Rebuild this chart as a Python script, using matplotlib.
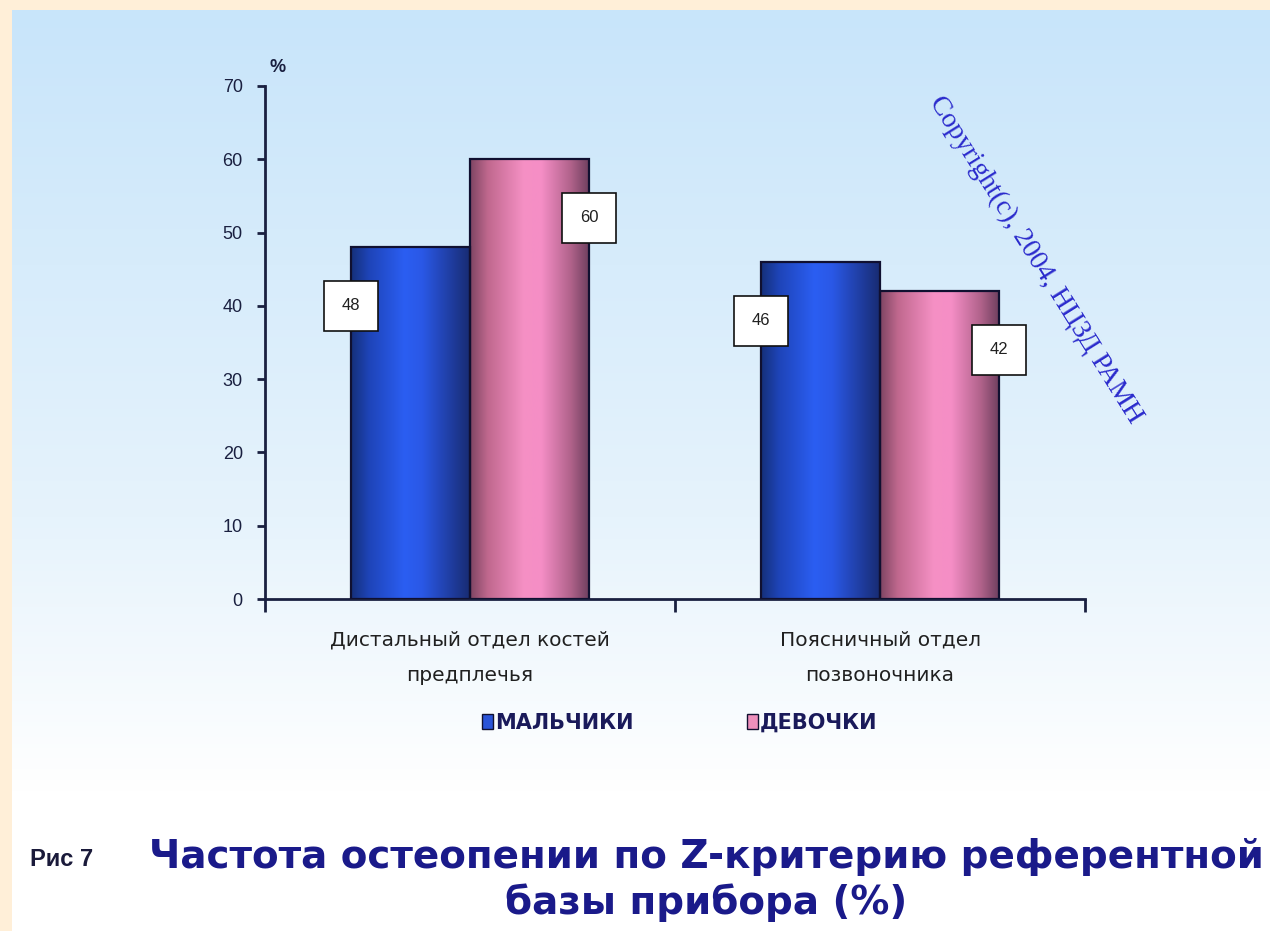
import numpy as np
import matplotlib
matplotlib.use("Agg")
import matplotlib.pyplot as plt
from matplotlib.colors import LinearSegmentedColormap
from matplotlib.patches import Patch

# ---- data ----
categories = ["Дистальный отдел костей\nпредплечья", "Поясничный отдел\nпозвоночника"]
series_names = ["МАЛЬЧИКИ", "ДЕВОЧКИ"]
boys = [48, 46]
girls = [60, 42]
y_ticks = [0, 10, 20, 30, 40, 50, 60, 70]

W, H = 1270, 931
fig = plt.figure(figsize=(W / 100, H / 100), dpi=100)
fig.patch.set_facecolor("#FFEFD8")

def fx(px):
    return px / W

def fy(py):
    return 1 - py / H

# background gradient panel
bg = fig.add_axes([fx(12), 0, 1 - fx(12), fy(10)])
bg.set_axis_off()
grad_cmap = LinearSegmentedColormap.from_list(
    "bgc", [(0, "#C8E5FA"), (0.55, "#E6F3FC"), (0.85, "#FFFFFF"), (1.0, "#FFFFFF")])
bg.imshow(np.linspace(0, 1, 256).reshape(-1, 1), aspect="auto", cmap=grad_cmap,
          extent=[0, 1, 0, 1], origin="upper")
bg.set_xlim(0, 1)
bg.set_ylim(0, 1)
bg.set_zorder(0)

ax = fig.add_axes([fx(265), fy(599), fx(1085) - fx(265), fy(86) - fy(599)])
ax.set_zorder(1)
ax.patch.set_alpha(0)

axis_col = "#1A2040"
n = len(categories)
centers = np.arange(n) + 0.5
bw = 0.29

blue_cmap = LinearSegmentedColormap.from_list(
    "bl", [(0, "#15307A"), (0.15, "#1E44B8"), (0.45, "#2B5EF2"), (0.6, "#2A58E6"), (0.85, "#1F3C9E"), (1, "#182C72")])
pink_cmap = LinearSegmentedColormap.from_list(
    "pk", [(0, "#7E4563"), (0.15, "#C0688E"), (0.45, "#F590C4"), (0.6, "#F58EC6"), (0.85, "#B0628A"), (1, "#704060")])

def grad_bars(xs, vals, cmap):
    bars = ax.bar(xs, vals, width=bw, facecolor="none", edgecolor="#101030", linewidth=1.6, zorder=3)
    g = np.linspace(0, 1, 256).reshape(1, -1)
    for b in bars:
        x0, y0 = b.get_x(), b.get_y()
        im = ax.imshow(g, aspect="auto", cmap=cmap,
                       extent=[x0, x0 + b.get_width(), y0, y0 + b.get_height()],
                       zorder=2, interpolation="bilinear")
        im.set_clip_path(b)
    return bars

bars_b = grad_bars(centers - bw / 2, boys, blue_cmap)
bars_g = grad_bars(centers + bw / 2, girls, pink_cmap)

ax.set_xlim(0, n)
ax.set_ylim(0, 70)
ax.set_aspect("auto")

# data labels: boxed, offset below bar top at outer edge
label_kw = dict(ha="center", va="center", fontsize=12, color="#202020", zorder=5, family="Liberation Sans",
                bbox=dict(boxstyle="square,pad=1.05", facecolor="white", edgecolor="#101010", linewidth=1.2))
for b, v in zip(bars_b, boys):
    ax.text(b.get_x(), v - 8, f"{v}", **label_kw)
for b, v in zip(bars_g, girls):
    ax.text(b.get_x() + b.get_width(), v - 8, f"{v}", **label_kw)

# axes styling
for s in ["top", "right"]:
    ax.spines[s].set_visible(False)
for s in ["left", "bottom"]:
    ax.spines[s].set_color(axis_col)
    ax.spines[s].set_linewidth(2)
ax.set_yticks(y_ticks)
ax.set_yticklabels([str(t) for t in y_ticks], fontsize=13, color=axis_col, family="Liberation Sans")
ax.tick_params(axis="y", length=6, width=2, color=axis_col, pad=10)
ax.set_xticks(centers)
ax.set_xticklabels(categories, fontsize=14.5, color="#202020", linespacing=2.1, family="DejaVu Sans")
ax.tick_params(axis="x", length=0, pad=23)
ax.set_xticks(np.arange(n + 1), minor=True)
ax.tick_params(axis="x", which="minor", length=9, width=2, color=axis_col)
ax.text(0.015, 1.036, "%", transform=ax.transAxes, fontsize=13, color=axis_col, ha="center", va="center",
        family="Liberation Sans", weight="bold")

# legend
handles = [Patch(facecolor="#2A54D8", edgecolor="#101030"), Patch(facecolor="#EE90BC", edgecolor="#101030")]
leg = fig.legend(handles, series_names, loc="center", bbox_to_anchor=(fx(680), fy(723)), ncol=2,
                 frameon=False, handlelength=0.5, handleheight=0.7, handletextpad=0.12,
                 columnspacing=5.45, prop={"family": "DejaVu Sans", "weight": "bold", "size": 15})
for t in leg.get_texts():
    t.set_color("#1A1A5A")

# copyright
fig.text(fx(1036), fy(260), "Copyright(c), 2004, НЦЗД РАМН", rotation=-58, rotation_mode="anchor",
         ha="center", va="center", family="Liberation Serif", fontsize=20, color="#2A2ACC")

# title
fig.text(fx(62), fy(860), "Рис 7", ha="center", va="center", family="Liberation Sans",
         weight="bold", fontsize=17, color="#1A1A3A")
fig.text(fx(706), fy(857), "Частота остеопении по Z-критерию референтной", ha="center", va="center",
         family="DejaVu Sans", weight="bold", fontsize=28, color="#1A1A8A")
fig.text(fx(706), fy(903), "базы прибора (%)", ha="center", va="center",
         family="DejaVu Sans", weight="bold", fontsize=28, color="#1A1A8A")

fig.savefig("out.png", dpi=100, facecolor=fig.get_facecolor())
